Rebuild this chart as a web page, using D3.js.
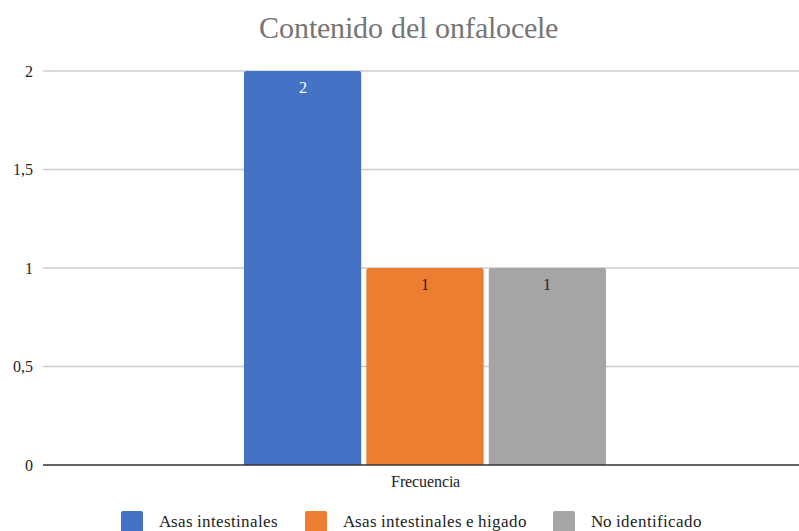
<!DOCTYPE html>
<html>
<head>
<meta charset="utf-8">
<script src="https://cdn.jsdelivr.net/npm/d3@7"></script>
<style>
  @font-face { font-family: "ChartSerif"; src: local("Liberation Serif"), local("LiberationSerif"), local("Liberation Serif Regular"), local("LiberationSerif-Regular"); }
</style>
</head>
<body style="margin:0;background:#fff">
<svg id="chart" width="799" height="531"></svg>
<script>
// Onfalocele content: one category, three series
const categories = ["Frecuencia"];
const seriesNames = ["Asas intestinales", "Asas intestinales e higado", "No identificado"];
const seriesValues = [2, 1, 1];
const seriesColors = ["#4472c4", "#ed7d31", "#a5a5a5"];
const labelColors = ["#ffffff", "#222222", "#222222"];
const yTicks = [0, 0.5, 1, 1.5, 2];

const fontOf = () => "'ChartSerif', 'Liberation Serif'";
const svg = d3.select("#chart");
const margin = { left: 43, right: -8, top: 71, bottom: 66 };
const W = 799, H = 531;
const plotW = W - margin.left - margin.right;
const plotH = H - margin.top - margin.bottom;

const fmt = v => String(v).replace(".", ",");

const g = svg.append("g").attr("transform", `translate(${margin.left},${margin.top})`);

const y = d3.scaleLinear().domain([0, 2]).range([plotH, 0]);
const x0 = d3.scaleBand().domain(categories).range([0, plotW]).paddingInner(0).paddingOuter(0.555);
const x1 = d3.scaleBand().domain(seriesNames).range([0, x0.bandwidth()]).paddingInner(0.042);

// Title
svg.append("text")
  .attr("x", 408).attr("y", 38)
  .attr("text-anchor", "middle")
  .attr("fill", "#757575")
  .style("font-family", fontOf)
  .style("font-size", "30px")
  .text("Contenido del onfalocele");

// Gridlines
g.append("g")
  .selectAll("line")
  .data(yTicks.filter(t => t > 0))
  .join("line")
  .attr("x1", 0).attr("x2", plotW)
  .attr("y1", d => y(d)).attr("y2", d => y(d))
  .attr("stroke", "#cccccc").attr("stroke-width", 1.3);

// Y axis labels
const yAxis = d3.axisLeft(y).tickValues(yTicks).tickFormat(fmt).tickSize(0).tickPadding(10);
const ya = g.append("g").call(yAxis);
ya.attr("font-family", null);
ya.select(".domain").remove();
ya.selectAll("text")
  .attr("fill", "#222")
  .style("font-family", fontOf)
  .style("font-size", "16px");

// Bars
const cat = g.selectAll(".cat")
  .data(categories)
  .join("g")
  .attr("transform", d => `translate(${x0(d)},0)`);

const r = 2.5;
cat.selectAll("path.bar")
  .data(seriesNames.map((s, i) => ({ s, v: seriesValues[i], i })))
  .join("path")
  .attr("class", "bar")
  .attr("fill", d => seriesColors[d.i])
  .attr("d", d => {
    const bx = x1(d.s), bw = x1.bandwidth();
    const top = y(d.v), bot = y(0);
    return `M${bx},${bot}V${top + r}Q${bx},${top} ${bx + r},${top}H${bx + bw - r}Q${bx + bw},${top} ${bx + bw},${top + r}V${bot}Z`;
  });

// Value labels inside bar tops
cat.selectAll("text.val")
  .data(seriesNames.map((s, i) => ({ s, v: seriesValues[i], i })))
  .join("text")
  .attr("class", "val")
  .attr("x", d => x1(d.s) + x1.bandwidth() / 2)
  .attr("y", d => y(d.v) + 22)
  .attr("text-anchor", "middle")
  .attr("fill", d => labelColors[d.i])
  .style("font-family", fontOf)
  .style("font-size", "16px")
  .text(d => fmt(d.v));

// Baseline
g.append("line")
  .attr("x1", 0).attr("x2", plotW)
  .attr("y1", y(0)).attr("y2", y(0))
  .attr("stroke", "#333").attr("stroke-width", 1.5);

// Category axis label
const xAxis = d3.axisBottom(x0).tickSize(0).tickPadding(11);
const xa = g.append("g").attr("transform", `translate(0,${plotH})`).call(xAxis);
xa.attr("font-family", null);
xa.select(".domain").remove();
xa.selectAll("text")
  .attr("fill", "#222")
  .style("font-family", fontOf)
  .style("font-size", "16px");

// Legend
const legendX = [121, 305, 553];
const leg = svg.append("g").selectAll("g")
  .data(seriesNames)
  .join("g")
  .attr("transform", (d, i) => `translate(${legendX[i]},511)`);
leg.append("rect")
  .attr("width", 22).attr("height", 22).attr("rx", 2)
  .attr("fill", (d, i) => seriesColors[i]);
leg.append("text")
  .attr("x", 38).attr("y", 16)
  .attr("fill", "#222")
  .style("font-family", fontOf)
  .style("font-size", "16.5px")
  .text(d => d);
</script>
</body>
</html>
